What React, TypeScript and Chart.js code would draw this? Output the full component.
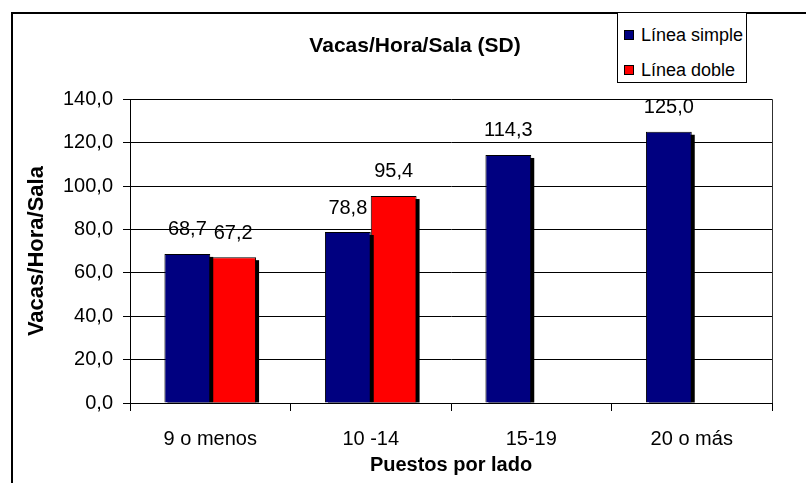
import React, { useEffect, useRef } from "react";
import { Chart, registerables } from "chart.js";

Chart.register(...registerables);

const chartTitle = "Vacas/Hora/Sala (SD)";
const categories = ["9 o menos", "10 -14", "15-19", "20 o más"];
const seriesNames = ["Línea simple", "Línea doble"];
const lineaSimple: (number | null)[] = [68.7, 78.8, 114.3, 125.0];
const lineaDoble: (number | null)[] = [67.2, 95.4, null, null];
const seriesColors = ["#000080", "#FF0000"];
const yMin = 0;
const yMax = 140;
const yStep = 20;
const xTitle = "Puestos por lado";
const yTitle = "Vacas/Hora/Sala";

const FONT = "'Liberation Sans', Arial, sans-serif";
const fmt = (v: number) => v.toFixed(1).replace(".", ",");

const framePlugin = {
  id: "frame",
  beforeDraw(chart: any) {
    const ctx = chart.ctx;
    ctx.save();
    ctx.fillStyle = "#ffffff";
    ctx.fillRect(0, 0, chart.width, chart.height);
    ctx.strokeStyle = "#000000";
    ctx.lineWidth = 2;
    ctx.beginPath();
    ctx.moveTo(12, chart.height + 10);
    ctx.lineTo(12, 13);
    ctx.lineTo(chart.width + 10, 13);
    ctx.stroke();
    ctx.restore();
  },
  afterDraw(chart: any) {
    const { ctx, chartArea } = chart;
    ctx.save();
    ctx.strokeStyle = "#303030";
    ctx.lineWidth = 1;
    ctx.beginPath();
    ctx.moveTo(Math.round(chartArea.right) + 0.5, chartArea.top);
    ctx.lineTo(Math.round(chartArea.right) + 0.5, chartArea.bottom);
    ctx.stroke();
    ctx.restore();
  },
};

const shadowPlugin = {
  id: "barShadow",
  beforeDatasetDraw(chart: any, args: any) {
    const ctx = chart.ctx;
    const meta = args.meta;
    ctx.save();
    ctx.fillStyle = "#000000";
    meta.data.forEach((bar: any, j: number) => {
      const v = chart.data.datasets[args.index].data[j];
      if (v === null || v === undefined) return;
      const w = bar.width;
      const left = bar.x - w / 2;
      const top = Math.min(bar.y, bar.base);
      const bottom = Math.max(bar.y, bar.base);
      ctx.fillRect(left + 3, top + 3, w, bottom - top - 3);
    });
    ctx.restore();
  },
};

const labelPlugin = {
  id: "valueLabels",
  afterDatasetsDraw(chart: any) {
    const ctx = chart.ctx;
    ctx.save();
    ctx.font = `20px ${FONT}`;
    ctx.fillStyle = "#000000";
    ctx.textAlign = "center";
    ctx.textBaseline = "middle";
    chart.data.datasets.forEach((ds: any, i: number) => {
      const meta = chart.getDatasetMeta(i);
      meta.data.forEach((bar: any, j: number) => {
        const v = ds.data[j];
        if (v === null || v === undefined) return;
        ctx.fillText(fmt(v), bar.x, bar.y - 24);
      });
    });
    ctx.restore();
  },
};

export default function App() {
  const canvasRef = useRef<HTMLCanvasElement | null>(null);

  useEffect(() => {
    if (!canvasRef.current) return;
    const chart = new Chart(canvasRef.current, {
      type: "bar",
      data: {
        labels: categories,
        datasets: [
          {
            label: seriesNames[0],
            data: lineaSimple,
            backgroundColor: seriesColors[0],
            borderColor: "#000000",
            borderWidth: 1,
            categoryPercentage: 0.571,
            barPercentage: 1,
          },
          {
            label: seriesNames[1],
            data: lineaDoble,
            backgroundColor: seriesColors[1],
            borderColor: "#000000",
            borderWidth: 1,
            categoryPercentage: 0.571,
            barPercentage: 1,
          },
        ],
      },
      options: {
        responsive: false,
        animation: false,
        layout: { padding: { left: 58, right: 34, top: 0, bottom: 0 } },
        plugins: {
          legend: { display: false },
          tooltip: { enabled: false },
          title: {
            display: true,
            text: chartTitle,
            color: "#000000",
            font: { family: FONT, size: 21, weight: "bold" },
            padding: { top: 34, bottom: 40 },
          },
        },
        scales: {
          x: {
            grid: {
              display: true,
              offset: true,
              drawOnChartArea: false,
              drawTicks: true,
              tickLength: 8,
              color: "#000000",
            },
            border: { display: true, color: "#000000", width: 1 },
            ticks: {
              color: "#000000",
              font: { family: FONT, size: 20 },
              padding: 16,
              maxRotation: 0,
            },
            title: {
              display: true,
              text: xTitle,
              color: "#000000",
              font: { family: FONT, size: 20, weight: "bold" },
              padding: { top: 0, bottom: 6 },
            },
            afterFit(scale: any) {
              scale.height = 80;
            },
          },
          y: {
            min: yMin,
            max: yMax,
            ticks: {
              stepSize: yStep,
              color: "#000000",
              font: { family: FONT, size: 20 },
              padding: 10,
              callback: (v: any) => fmt(Number(v)),
            },
            grid: {
              color: "#000000",
              drawTicks: true,
              tickLength: 7,
            },
            border: { display: true, color: "#000000", width: 1 },
            title: {
              display: true,
              text: yTitle,
              color: "#000000",
              font: { family: FONT, size: 22, weight: "bold" },
              padding: { top: -34, bottom: 0 },
            },
            afterFit(scale: any) {
              scale.width = 72;
            },
          },
        },
      },
      plugins: [framePlugin, shadowPlugin, labelPlugin],
    } as any);
    return () => chart.destroy();
  }, []);

  const legendItem = (name: string, color: string, top: number) => (
    <div
      key={name}
      style={{
        position: "absolute",
        left: 6,
        top,
        height: 22,
        display: "flex",
        alignItems: "center",
        whiteSpace: "nowrap",
      }}
    >
      <span
        style={{
          display: "inline-block",
          width: 8,
          height: 8,
          background: color,
          border: "1px solid #000",
          marginRight: 7,
        }}
      />
      <span style={{ fontFamily: FONT, fontSize: 18, color: "#000", lineHeight: "22px" }}>{name}</span>
    </div>
  );

  return (
    <div style={{ position: "absolute", left: 0, top: 0, width: 806, height: 483, background: "#fff" }}>
      <canvas ref={canvasRef} width={806} height={483} style={{ display: "block" }} />
      <div
        style={{
          position: "absolute",
          left: 617,
          top: 12,
          width: 128,
          height: 69,
          border: "1px solid #000",
          background: "#fff",
        }}
      >
        {legendItem(seriesNames[0], seriesColors[0], 11)}
        {legendItem(seriesNames[1], seriesColors[1], 46)}
      </div>
    </div>
  );
}
